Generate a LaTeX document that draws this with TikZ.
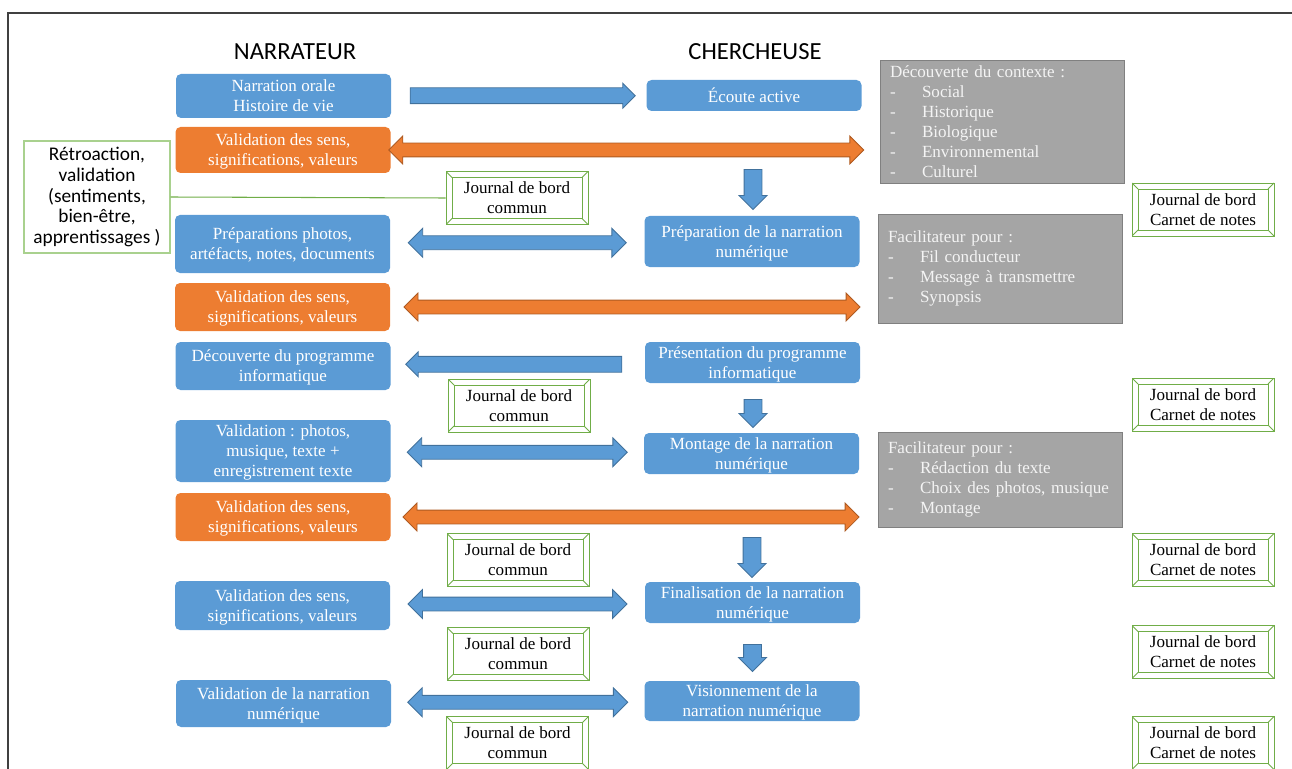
\documentclass[tikz,border=0pt]{standalone}
\usepackage{fontspec}
\setmainfont{Liberation Serif}
\newfontfamily\calibri{Carlito}
\usetikzlibrary{shapes.arrows, calc, positioning}

\definecolor{blueF}{HTML}{5B9BD5}
\definecolor{blueD}{HTML}{41719C}
\definecolor{orangeF}{HTML}{ED7D31}
\definecolor{orangeD}{HTML}{AE5A21}
\definecolor{grayF}{HTML}{A5A5A5}
\definecolor{grayD}{HTML}{808080}
\definecolor{grayT}{HTML}{F4F4F4}
\definecolor{jgreen}{HTML}{70AD47}
\definecolor{fbgreen}{HTML}{A9D18E}
\definecolor{frame}{HTML}{404040}

\newcommand{\itm}[1]{\makebox[6.4mm][l]{-}#1}

\tikzset{
  jbox/.style={draw=jgreen, fill=white, line width=0.5pt, minimum width=28.4mm, minimum height=10.6mm,
    path picture={
      \draw[jgreen] ([shift={(1.2mm,1.2mm)}]path picture bounding box.south west) rectangle ([shift={(-1.2mm,-1.2mm)}]path picture bounding box.north east);
      \draw[jgreen] (path picture bounding box.south west) -- ++(1.2mm,1.2mm);
      \draw[jgreen] (path picture bounding box.south east) -- ++(-1.2mm,1.2mm);
      \draw[jgreen] (path picture bounding box.north west) -- ++(1.2mm,-1.2mm);
      \draw[jgreen] (path picture bounding box.north east) -- ++(-1.2mm,-1.2mm);
    }},
}

\begin{document}
\begin{tikzpicture}[x=0.2mm,y=-0.2mm,
  every node/.style={font=\fontsize{9.7}{11.4}\selectfont, align=center, inner sep=0pt},
  head/.style={font=\calibri\fontsize{14}{16}\selectfont},
  nar/.style={rounded corners=1mm, fill=blueF, text=white, minimum width=43mm, text depth=0pt},
  val/.style={nar, fill=orangeF},
  grey/.style={draw=grayD, fill=grayF, text=grayT, minimum width=48.8mm, text width=44.8mm, align=left, inner xsep=2mm},
  fb/.style={draw=fbgreen, fill=white, line width=0.6pt, minimum width=29.2mm, minimum height=22.4mm, font=\calibri\fontsize{11}{11.9}\selectfont},
  rarrow/.style={single arrow, draw=blueD, fill=blueF, line width=0.5pt, text height=3mm, text depth=0pt, minimum width=4.8mm, single arrow head extend=0.9mm, single arrow tip angle=90},
  larrow/.style={rarrow, rotate=180},
  darrow/.style={rarrow, rotate=-90, text height=3.4mm, minimum width=5.4mm, single arrow head extend=1mm},
  barrow/.style={double arrow, draw=blueD, fill=blueF, line width=0.5pt, text height=2.6mm, text depth=0pt, minimum width=5.6mm, double arrow head extend=1.5mm, double arrow tip angle=90},
  oarrow/.style={barrow, draw=orangeD, fill=orangeF, minimum width=5.4mm, double arrow head extend=1.4mm}]

  \useasboundingbox (0,0) rectangle (1292,769);
  \draw[frame, line width=0.4mm] (8,769) -- (8,13) -- (1292,13);

  \node[head] (hn) at (295,52) {NARRATEUR};
  \node[head] (hc) at (755,52) {CHERCHEUSE};

  \node[nar, minimum height=8.8mm] (n1) at (283.5,96) {Narration orale\\Histoire de vie};
  \node[val, minimum height=9.2mm] (v1) at (283,150) {Validation des sens,\\significations, valeurs};
  \node[nar, minimum height=11.6mm] (n2) at (282.5,244) {Préparations photos,\\artéfacts, notes, documents};
  \node[val, minimum height=9.6mm] (v2) at (282.5,307) {Validation des sens,\\significations, valeurs};
  \node[nar, minimum height=9.6mm] (n3) at (283,366) {Découverte du programme\\informatique};
  \node[nar, minimum height=12.4mm] (n4) at (283,451) {Validation : photos,\\musique, texte +\\enregistrement texte};
  \node[val, minimum height=9.6mm] (v3) at (283,517) {Validation des sens,\\significations, valeurs};
  \node[nar, minimum height=9.8mm] (n5) at (282.5,605.5) {Validation des sens,\\significations, valeurs};
  \node[nar, minimum height=9.4mm] (n6) at (283.5,703.5) {Validation de la narration\\numérique};

  \node[nar, minimum height=6.2mm] (c1) at (754,95.5) {Écoute active};
  \node[nar, minimum height=10.2mm] (c2) at (752,241.5) {Préparation de la narration\\numérique};
  \node[nar, minimum height=8.2mm] (c3) at (752.5,362.5) {Présentation du programme\\informatique};
  \node[nar, minimum height=8.2mm] (c4) at (751.5,453.5) {Montage de la narration\\numérique};
  \node[nar, minimum height=8.2mm] (c5) at (752.5,602.5) {Finalisation de la narration\\numérique};
  \node[nar, minimum height=8mm] (c6) at (752,701) {Visionnement de la\\narration numérique};

  \node[grey, minimum height=24.6mm] (g1) at (1002,121.5) {Découverte du contexte :\\\itm{Social}\\\itm{Historique}\\\itm{Biologique}\\\itm{Environnemental}\\\itm{Culturel}};
  \node[grey, minimum height=21.8mm] (g2) at (1000,268.5) {Facilitateur pour :\\\itm{Fil conducteur}\\\itm{Message à transmettre}\\\itm{Synopsis}};
  \node[grey, minimum height=19mm] (g3) at (1000,479.5) {Facilitateur pour :\\\itm{Rédaction du texte}\\\itm{Choix des photos, musique}\\\itm{Montage}};

  \node[jbox] (j1) at (517,198) {Journal de bord\\commun};
  \node[jbox] (j2) at (519,405.5) {Journal de bord\\commun};
  \node[jbox] (j3) at (518,560) {Journal de bord\\commun};
  \node[jbox] (j4) at (518,654) {Journal de bord\\commun};
  \node[jbox] (j5) at (517.5,743) {Journal de bord\\commun};

  \node[jbox] (k1) at (1203,209.5) {Journal de bord\\Carnet de notes};
  \node[jbox] (k2) at (1203,404.5) {Journal de bord\\Carnet de notes};
  \node[jbox] (k3) at (1203,560) {Journal de bord\\Carnet de notes};
  \node[jbox] (k4) at (1203,652) {Journal de bord\\Carnet de notes};
  \node[jbox] (k5) at (1203,743) {Journal de bord\\Carnet de notes};

  \node[fb] (fb) at (97,197) {Rétroaction,\\validation\\(sentiments,\\bien-être,\\apprentissages )};
  \draw[jgreen, line width=0.6pt] (fb.east) -- (j1.west);

  \node[rarrow, minimum height=45mm] (a1) at ($(n1.east)!.5!(c1.west)$) {};
  \node[oarrow, minimum height=95mm] (o1) at ($(v1.east)!.5!(v1.east -| c1.east)$) {};
  \node[darrow, minimum height=8mm] (d1) at (753,185) {};
  \node[barrow, minimum height=43.6mm] (b1) at ($(n2.east)!.5!(c2.west)$) {};
  \node[oarrow, minimum height=91.2mm, xshift=1.4mm] (o2) at ($(v2.east)!.5!(v2.east -| c2.east)$) {};
  \node[larrow, minimum height=43.2mm] (l1) at ($(n3.east)!.5!(c3.west)$) {};
  \node[darrow, minimum height=5.6mm] (d2) at (753,409) {};
  \node[barrow, minimum height=44mm] (b2) at ($(n4.east)!.5!(c4.west)$) {};
  \node[oarrow, minimum height=91.2mm, xshift=1.2mm] (o3) at ($(v3.east)!.5!(v3.east -| c4.east)$) {};
  \node[darrow, minimum height=8mm] (d3) at (752,553) {};
  \node[barrow, minimum height=43.8mm] (b3) at ($(n5.east)!.5!(c5.west)$) {};
  \node[darrow, minimum height=5.4mm] (d4) at (752.5,653.5) {};
  \node[barrow, minimum height=44mm] (b4) at ($(n6.east)!.5!(c6.west)$) {};
\end{tikzpicture}
\end{document}
